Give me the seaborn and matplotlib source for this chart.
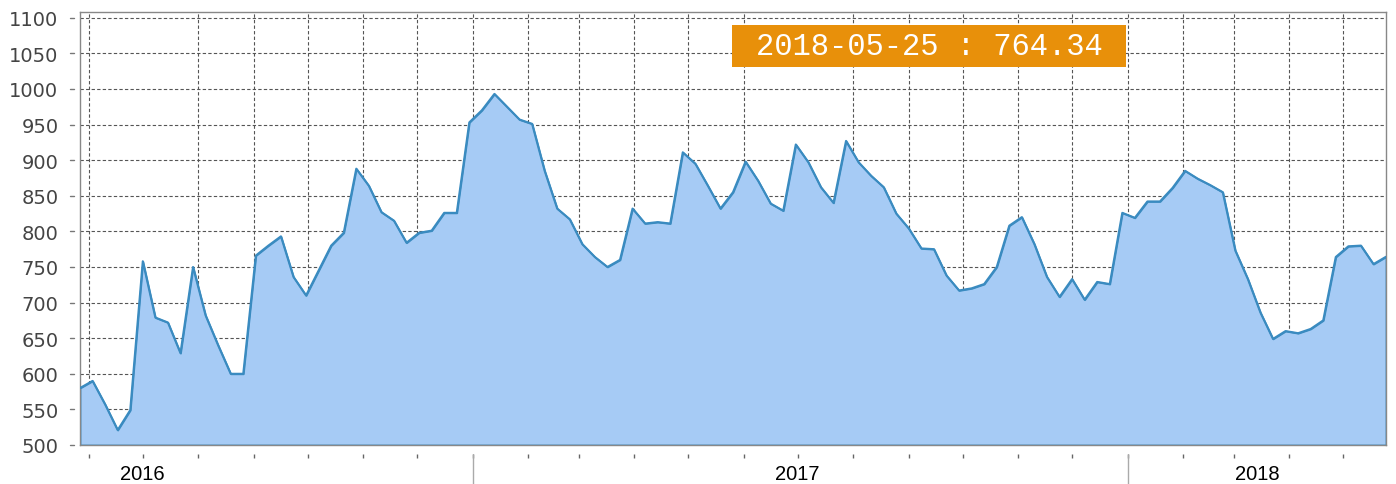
import pandas as pd
import matplotlib
matplotlib.use('Agg')
import matplotlib.pyplot as plt
import matplotlib.dates as mdates
from matplotlib.patches import Rectangle
import seaborn as sns

# weekly series
start_date = '2016-05-27'
end_date = '2018-05-25'
values = [580, 590, 557, 521, 549, 758, 679, 672, 629, 750,
          682, 640, 600, 600, 766, 780, 793, 736, 710, 745,
          780, 798, 888, 864, 827, 815, 784, 798, 801, 826,
          826, 953, 970, 993, 975, 957, 951, 885, 832, 817,
          782, 764, 750, 760, 832, 811, 813, 811, 911, 895,
          864, 832, 855, 898, 871, 839, 829, 922, 897, 862,
          840, 927, 897, 878, 862, 825, 804, 776, 775, 738,
          717, 720, 726, 750, 808, 820, 782, 736, 708, 733,
          704, 729, 726, 826, 819, 842, 842, 861, 885, 874,
          865, 855, 773, 733, 686, 649, 660, 657, 663, 675,
          764, 779, 780, 754, 764.34]
year_labels = ['2016', '2017', '2018']
year_label_dates = ['2016-07-01', '2017-07-01', '2018-03-14']
year_starts = ['2017-01-01', '2018-01-01']
y_ticks = list(range(500, 1101, 50))

df = pd.DataFrame({'date': pd.date_range(start_date, end_date, freq='7D'),
                   'value': values})

line_color = '#3a8bc0'
fill_color = '#a6cbf5'
grid_color = '#555555'

sns.set_style('white')
fig = plt.figure(figsize=(13.96, 4.85), dpi=100)
ax = fig.add_axes([80 / 1396, 39 / 485, 1306 / 1396, 433 / 485])

ax.fill_between(df['date'], df['value'], 500, facecolor=fill_color,
                edgecolor=line_color, linewidth=1.3, zorder=2)
sns.lineplot(data=df, x='date', y='value', ax=ax, color=line_color,
             linewidth=1.5, zorder=3)

ax.set_xlim(df['date'].iloc[0], df['date'].iloc[-1])
ax.set_ylim(500, 1108)

# y axis
ax.set_yticks(y_ticks)
ax.tick_params(axis='y', length=0, pad=15.5, labelsize=14, labelcolor='#444444')
for lab in ax.get_yticklabels():
    lab.set_fontfamily('DejaVu Sans')

# x axis: month grid, year labels centred in the year
ax.xaxis.set_minor_locator(mdates.MonthLocator())
ax.set_xticks(pd.to_datetime(year_label_dates))
ax.set_xticklabels(year_labels, fontsize=14.5, family='Liberation Sans', color='#000000')
ax.tick_params(axis='x', which='both', length=0, pad=14)

ax.grid(False)
ax.grid(True, axis='y', which='major', color=grid_color, linestyle=(0, (3, 2)), linewidth=0.8)
ax.grid(True, axis='x', which='minor', color=grid_color, linestyle=(0, (3, 2)), linewidth=0.8)
ax.set_axisbelow(True)
ax.set_xlabel('')
ax.set_ylabel('')

# small detached tick dashes
ax.plot([[-0.0077] * len(y_ticks), [-0.0046] * len(y_ticks)],
        [y_ticks, y_ticks], color='#777777', linewidth=1,
        transform=ax.get_yaxis_transform(), clip_on=False)
month_starts = pd.date_range('2016-06-01', '2018-05-01', freq='MS')
ax.vlines(month_starts, -0.021, -0.030, color='#666666', linewidth=1,
          transform=ax.get_xaxis_transform(), clip_on=False)
ax.vlines(pd.to_datetime(year_starts), -0.021, -0.095, color='#aaaaaa', linewidth=1,
          transform=ax.get_xaxis_transform(), clip_on=False)

for s in ax.spines.values():
    s.set_color('#888888')
    s.set_linewidth(1)

# value badge
fig.patches.append(Rectangle((732 / 1396, 417 / 485), 394 / 1396, 42 / 485,
                             transform=fig.transFigure, facecolor='#e8900a',
                             edgecolor='none', zorder=5))
badge = f"{df['date'].iloc[-1]:%Y-%m-%d} : {values[-1]:.2f}"
fig.text(929 / 1396, 438 / 485, badge, ha='center', va='center', color='white',
         fontsize=22, family='Liberation Mono', zorder=6)

fig.savefig('out.png', dpi=100)
